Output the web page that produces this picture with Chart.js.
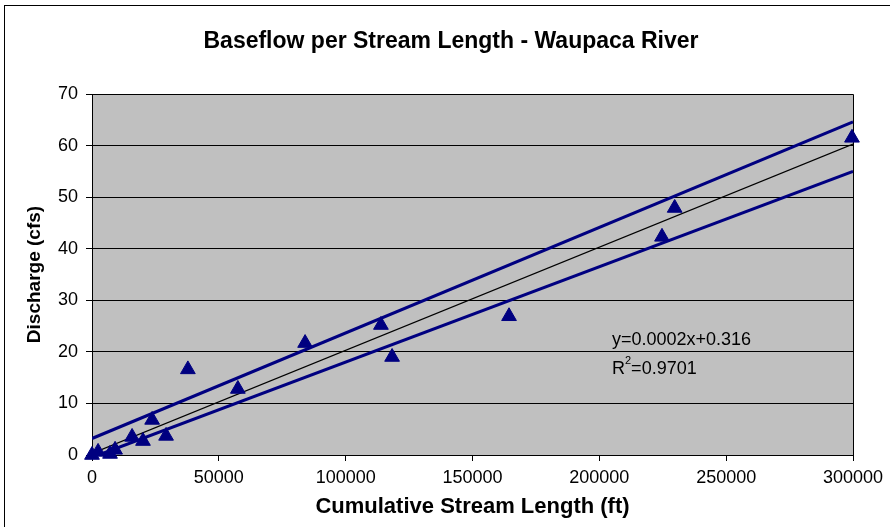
<!DOCTYPE html>
<html>
<head>
<meta charset="utf-8">
<script src="https://cdn.jsdelivr.net/npm/chart.js@4"></script>
<style>
  body { margin: 0; background: #fff; }
  canvas { display: block; }
</style>
</head>
<body>
<canvas id="flowChart" width="890" height="527"></canvas>
<script>
// measured points (ft, cfs)
var streamLength = [0, 2400, 7100, 9100, 15800, 20100, 23700, 29200, 37800, 57500, 84000, 113900, 118300, 164400, 224700, 229700, 299600];
var discharge = [0, 0.6, 0.2, 1.0, 3.5, 2.7, 6.8, 3.7, 16.6, 12.8, 21.7, 25.2, 19.0, 26.9, 42.3, 47.9, 61.5];

// trend line and bounds (end points)
var trendX = [0, 300000];
var trendY = [0.3, 60.3];
var upperX = [0, 300000];
var upperY = [3.2, 64.6];
var lowerX = [2600, 300000];
var lowerY = [0, 55.0];

var xTicks = [0, 50000, 100000, 150000, 200000, 250000, 300000];
var yTicks = [0, 10, 20, 30, 40, 50, 60, 70];

var chartTitle = "Baseflow per Stream Length - Waupaca River";
var FONT = "Arial, 'Liberation Sans', sans-serif";

function pairs(xs, ys) {
    return xs.map(function (x, i) { return { x: x, y: ys[i] }; });
}

var plotDecor = {
    id: "plotDecor",
    beforeDraw: function (chart) {
        var ctx = chart.ctx, a = chart.chartArea;
        ctx.save();
        ctx.fillStyle = "#ffffff";
        ctx.fillRect(0, 0, chart.width, chart.height);
        ctx.fillStyle = "#C0C0C0";
        ctx.fillRect(a.left, a.top, a.right - a.left, a.bottom - a.top);
        ctx.strokeStyle = "#000000";
        ctx.lineWidth = 1;
        ctx.strokeRect(4.5, 5.5, 950, 600);
        // title, centred on the whole picture
        ctx.fillStyle = "#000000";
        ctx.font = "bold 23px " + FONT;
        ctx.textAlign = "center";
        ctx.textBaseline = "middle";
        ctx.fillText(chartTitle, 451, 42);
        ctx.restore();
    },
    beforeDatasetsDraw: function (chart) {
        var ctx = chart.ctx, a = chart.chartArea;
        ctx.save();
        ctx.strokeStyle = "#000000";
        ctx.lineWidth = 1;
        ctx.beginPath();
        ctx.moveTo(a.left, a.top + 0.5);
        ctx.lineTo(a.right + 0.5, a.top + 0.5);
        ctx.lineTo(a.right + 0.5, a.bottom);
        ctx.stroke();
        ctx.restore();
    },
    afterDatasetsDraw: function (chart) {
        var ctx = chart.ctx;
        ctx.save();
        ctx.fillStyle = "#000000";
        ctx.font = "18px " + FONT;
        ctx.textBaseline = "middle";
        ctx.textAlign = "left";
        ctx.fillText("y=0.0002x+0.316", 612, 340);
        var x = 612;
        ctx.fillText("R", x, 369);
        x += ctx.measureText("R").width;
        ctx.font = "11px " + FONT;
        ctx.fillText("2", x, 361);
        x += ctx.measureText("2").width;
        ctx.font = "18px " + FONT;
        ctx.fillText("=0.9701", x, 369);
        ctx.restore();
    }
};

document.addEventListener("DOMContentLoaded", function () {
    var ctx = document.getElementById("flowChart").getContext("2d");
    new Chart(ctx, {
        type: "scatter",
        data: {
            datasets: [{
                label: "Discharge",
                data: pairs(streamLength, discharge),
                pointStyle: "triangle",
                pointRadius: 8.5,
                backgroundColor: "#000080",
                borderColor: "#000080",
                borderWidth: 1,
                clip: false
            }, {
                label: "Trend",
                type: "line",
                data: pairs(trendX, trendY),
                borderColor: "#000000",
                borderWidth: 1.2,
                pointRadius: 0,
                fill: false
            }, {
                label: "Upper",
                type: "line",
                data: pairs(upperX, upperY),
                borderColor: "#000080",
                borderWidth: 3,
                pointRadius: 0,
                fill: false
            }, {
                label: "Lower",
                type: "line",
                data: pairs(lowerX, lowerY),
                borderColor: "#000080",
                borderWidth: 3,
                pointRadius: 0,
                fill: false
            }]
        },
        options: {
            responsive: false,
            animation: false,
            layout: {
                padding: { top: 94, right: 37, left: 0, bottom: 0 }
            },
            plugins: {
                legend: { display: false },
                tooltip: { enabled: false },
                title: { display: false }
            },
            scales: {
                x: {
                    type: "linear",
                    min: 0,
                    max: 300000,
                    afterBuildTicks: function (scale) {
                        scale.ticks = xTicks.map(function (v) { return { value: v }; });
                    },
                    afterFit: function (scale) { scale.height = 72; },
                    ticks: {
                        color: "#000000",
                        padding: 6,
                        maxRotation: 0,
                        autoSkip: false,
                        font: { family: FONT, size: 18 },
                        callback: function (v) { return String(v); }
                    },
                    grid: {
                        drawOnChartArea: false,
                        drawTicks: true,
                        tickLength: 6,
                        color: "#000000"
                    },
                    border: { color: "#000000", width: 1 },
                    title: {
                        display: true,
                        text: "Cumulative Stream Length (ft)",
                        color: "#000000",
                        font: { family: FONT, size: 22, weight: "bold" },
                        padding: { bottom: 7 }
                    }
                },
                y: {
                    min: 0,
                    max: 70,
                    afterBuildTicks: function (scale) {
                        scale.ticks = yTicks.map(function (v) { return { value: v }; });
                    },
                    afterFit: function (scale) { scale.width = 92; },
                    ticks: {
                        color: "#000000",
                        padding: 8,
                        font: { family: FONT, size: 18 }
                    },
                    grid: {
                        color: "#000000",
                        lineWidth: 1,
                        drawTicks: true,
                        tickLength: 6
                    },
                    border: { color: "#000000", width: 1 },
                    title: {
                        display: true,
                        text: "Discharge (cfs)",
                        color: "#000000",
                        font: { family: FONT, size: 19, weight: "bold" },
                        padding: { top: 23 }
                    }
                }
            }
        },
        plugins: [plotDecor]
    });
});
</script>
</body>
</html>
